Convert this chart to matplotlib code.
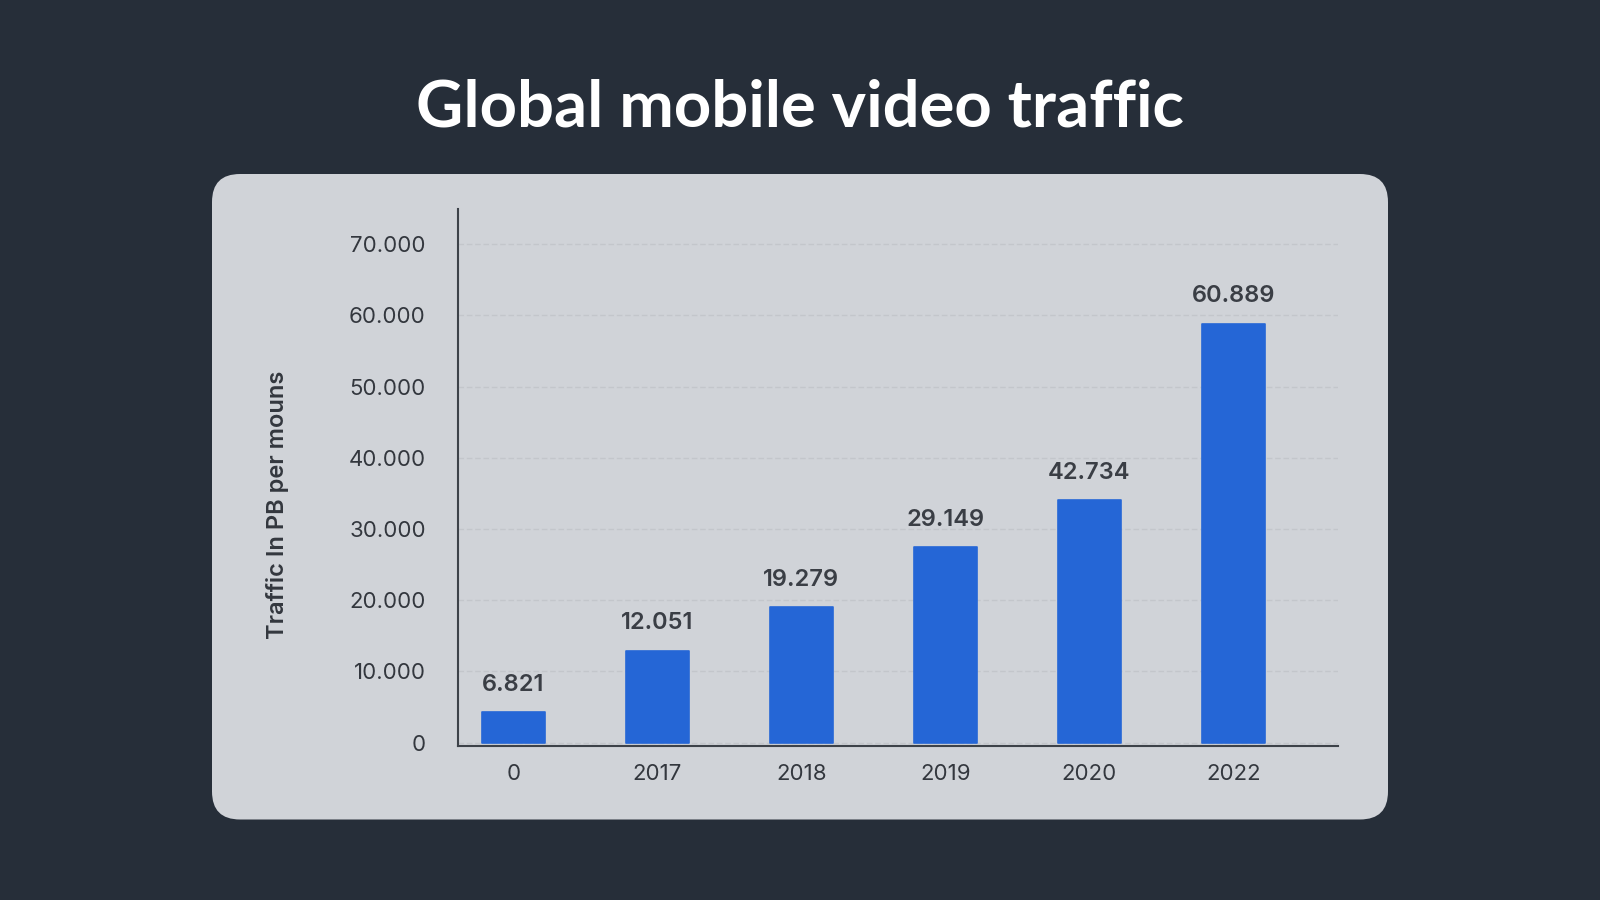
import matplotlib.pyplot as plt
from matplotlib.patches import FancyBboxPatch
from matplotlib.ticker import FuncFormatter

# Data
categories = ["0", "2017", "2018", "2019", "2020", "2022"]
bar_heights = [4260, 12870, 19000, 27430, 34050, 58860]
value_labels = ["6.821", "12.051", "19.279", "29.149", "42.734", "60.889"]
y_ticks = [0, 10000, 20000, 30000, 40000, 50000, 60000, 70000]

bg_color = "#262e39"
panel_color = "#d0d3d8"
bar_color = "#2566d6"
text_color = "#33373e"

fig = plt.figure(figsize=(16, 9), dpi=100, facecolor=bg_color)

# Light rounded panel behind the chart (in inches)
panel = FancyBboxPatch((2.12, 0.805), 11.76, 6.455,
                       boxstyle="round,pad=0,rounding_size=0.28",
                       transform=fig.dpi_scale_trans,
                       facecolor=panel_color, edgecolor="none", zorder=-5)
fig.patches.append(panel)

fig.text(0.5, 0.8592, "Global mobile video traffic", ha="center", va="baseline",
         color="white", fontsize=47, fontweight="bold", family="Lato")

ax = fig.add_axes([0.2861, 0.1714, 0.55, 0.596])
ax.set_facecolor("none")
ax.set_zorder(2)

x = list(range(len(categories)))
ax.bar(x, bar_heights, width=0.44, color=bar_color, edgecolor=bar_color,
       linewidth=1.2, joinstyle="round", zorder=3)

for xi, h, lab in zip(x, bar_heights, value_labels):
    ax.annotate(lab, (xi, h), xytext=(0, 15.5), textcoords="offset points",
                ha="center", va="baseline", fontsize=17, fontweight="semibold",
                color="#3a3e45", family="Inter")

ax.set_xlim(-0.387, 5.725)
ax.set_ylim(-450, 74900)
ax.set_xticks(x)
ax.set_xticklabels(categories)
ax.set_yticks(y_ticks)
ax.yaxis.set_major_formatter(FuncFormatter(lambda v, p: f"{int(v):,}".replace(",", ".")))

ax.tick_params(axis="both", length=0, labelsize=16, labelcolor=text_color)
ax.tick_params(axis="y", pad=23)
ax.tick_params(axis="x", pad=13.5)
for lab in ax.get_xticklabels() + ax.get_yticklabels():
    lab.set_family("Inter")

ax.grid(axis="y", color="#c3c6cb", linestyle=(0, (4, 2)), linewidth=1, zorder=1)
ax.set_axisbelow(True)

for side in ["top", "right"]:
    ax.spines[side].set_visible(False)
for side in ["left", "bottom"]:
    ax.spines[side].set_color("#3d4249")
    ax.spines[side].set_linewidth(1.5)

fig.text(277.5 / 1600, 1 - 505 / 900, "Traffic In PB per mouns", rotation=90,
         ha="center", va="center", fontsize=17, fontweight="semibold",
         color=text_color, family="Inter")

fig.savefig("out.png", dpi=100, facecolor=bg_color)
